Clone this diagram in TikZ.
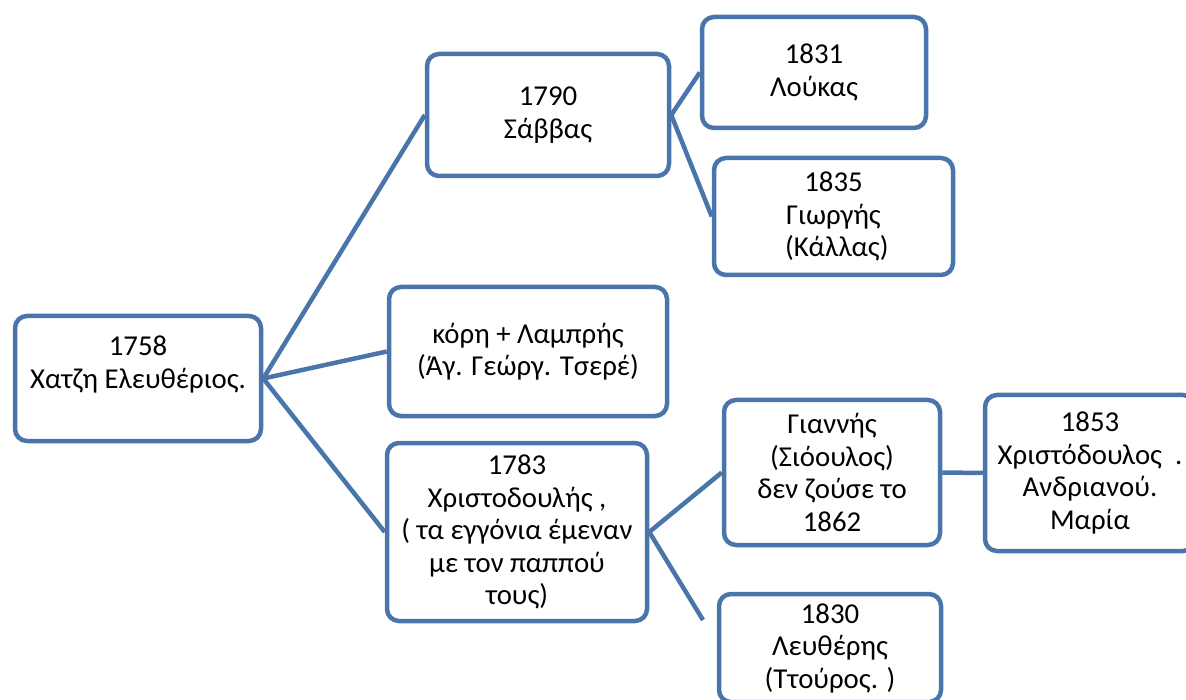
\documentclass[tikz,border=0pt]{standalone}
\usepackage{fontspec}
\setmainfont{Carlito}
\definecolor{boxblue}{RGB}{74,117,170}
\begin{document}
\begin{tikzpicture}[x=1pt,y=-1pt,
  famnode/.style={draw=boxblue, line width=4.5pt, rounded corners=12pt, fill=white,
    align=center, inner sep=0pt, font=\fontsize{28.8}{32.5}\selectfont},
  link/.style={draw=boxblue, line width=4.5pt}]
\useasboundingbox (0,0) rectangle (1186,700);
\node[famnode, minimum width=246pt, minimum height=125pt] (root) at (138,378.5) {1758\\Χατζη Ελευθέριος.\\\mbox{}};
\node[famnode, minimum width=242pt, minimum height=122pt] (sabbas) at (548,115) {1790\\Σάββας};
\node[famnode, minimum width=224pt, minimum height=111pt] (loukas) at (814,72.5) {1831\\Λούκας};
\node[famnode, minimum width=239pt, minimum height=117pt] (giorgis) at (833.5,216.5) {1835\\Γιωργής\\\ (Κάλλας)};
\node[famnode, minimum width=278pt, minimum height=129pt] (kori) at (528,351.5) {κόρη + Λαμπρής\\(Άγ. Γεώργ. Τσερέ)};
\node[famnode, minimum width=260pt, minimum height=178pt] (christ) at (517,532) {1783\\Χριστοδουλής ,\\( τα εγγόνια έμεναν\\με τον παππού\\τους)};
\node[famnode, minimum width=216pt, minimum height=145pt] (giannis) at (832,472.5) {Γιαννής\\(Σιόουλος)\\δεν ζούσε το\\1862};
\node[famnode, minimum width=210pt, minimum height=156pt] (chr1853) at (1090,473) {1853\\Χριστόδουλος\ \ .\\Ανδριανού.\\Μαρία};
\node[famnode, minimum width=222pt, minimum height=108pt] (lef1830) at (830,648) {1830\\Λευθέρης\\(Ττούρος. )};
\coordinate (lefend) at (703,620);
\draw[link] (root.east) -- (sabbas.west);
\draw[link] (root.east) -- (kori.west);
\draw[link] (root.east) -- (christ.west);
\draw[link] (sabbas.east) -- (loukas.west);
\draw[link] (sabbas.east) -- (giorgis.west);
\draw[link] (christ.east) -- (giannis.west);
\draw[link] (christ.east) -- (lefend);
\draw[link] (giannis.east) -- (chr1853.west);
\end{tikzpicture}
\end{document}
